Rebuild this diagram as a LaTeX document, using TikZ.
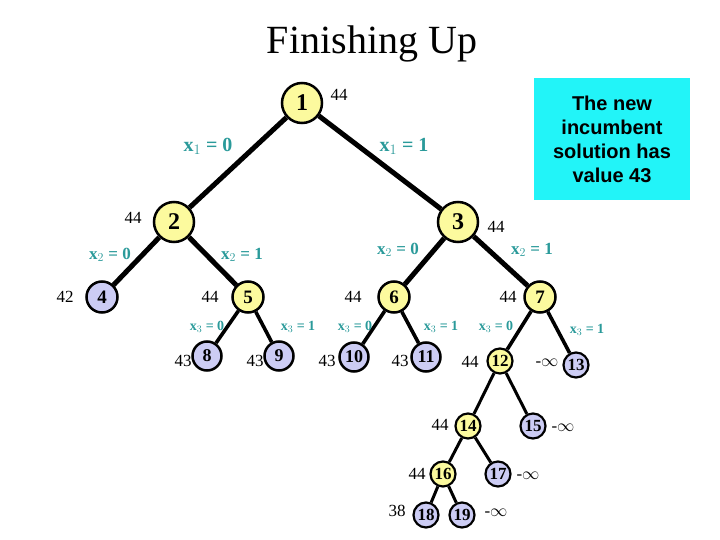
\documentclass[tikz,border=0pt]{standalone}
\usepackage{fontspec}
\setmainfont{Liberation Serif}
\newfontfamily\boxfont{Liberation Sans}
\definecolor{ny}{HTML}{FCFA9E}
\definecolor{nb}{HTML}{CCCCF4}
\definecolor{teal2}{HTML}{2A9A9A}
\definecolor{cy}{HTML}{22F4F8}
\begin{document}
\begin{tikzpicture}[x=1pt,y=-1pt,
 nd/.style={circle,draw=black,line width=2.5pt,inner sep=0pt,font=\fontsize{17}{17}\selectfont\bfseries},
 big/.style={nd,minimum size=40pt,font=\fontsize{24}{24}\selectfont\bfseries},
 mid/.style={nd,minimum size=31pt,font=\fontsize{19}{19}\selectfont\bfseries},
 sm/.style={nd,minimum size=29pt,font=\fontsize{18}{18}\selectfont\bfseries},
 tiny/.style={nd,minimum size=25pt,line width=2.2pt,font=\fontsize{17}{17}\selectfont\bfseries},
 Y/.style={fill=ny}, B/.style={fill=nb},
 val/.style={font=\fontsize{17}{17}\selectfont},
 lab/.style={text=teal2,font=\fontsize{20}{20}\selectfont\bfseries},
 lab2/.style={text=teal2,font=\fontsize{17}{17}\selectfont\bfseries},
 lab3/.style={text=teal2,font=\fontsize{14}{14}\selectfont\bfseries},
 e1/.style={line width=5pt},e2/.style={line width=3.6pt},e3/.style={line width=3pt}]
\useasboundingbox (0,0) rectangle (720,540);
\node (title) at (372,44) {\fontsize{40}{40}\selectfont Finishing Up};
\node[fill=cy,minimum width=156pt,minimum height=122pt,align=center,inner sep=0pt,font=\boxfont\fontsize{20}{24}\selectfont\bfseries] (box) at (612,139) {The new\\incumbent\\solution has\\value 43};
% nodes
\node[big,Y] (n1) at (302,103) {1};
\node[big,Y] (n2) at (174,222) {2};
\node[big,Y] (n3) at (458,222) {3};
\node[mid,B] (n4) at (102,297) {4};
\node[mid,Y] (n5) at (248,297) {5};
\node[mid,Y] (n6) at (394,297) {6};
\node[mid,Y] (n7) at (540,297) {7};
\node[sm,B] (n8) at (207,356) {8};
\node[sm,B] (n9) at (279,356) {9};
\node[sm,B] (n10) at (354,357) {10};
\node[sm,B] (n11) at (426,357) {11};
\node[tiny,Y] (n12) at (500,361) {12};
\node[tiny,B] (n13) at (576,365) {13};
\node[tiny,Y] (n14) at (468,426) {14};
\node[tiny,B] (n15) at (533,426) {15};
\node[tiny,Y] (n16) at (443,474) {16};
\node[tiny,B] (n17) at (498,474) {17};
\node[tiny,B] (n18) at (426,515) {18};
\node[tiny,B] (n19) at (462,515) {19};
% edges
\draw[e1] (n1)--(n2); \draw[e1] (n1)--(n3);
\draw[e1] (n2)--(n4); \draw[e1] (n2)--(n5);
\draw[e1] (n3)--(n6); \draw[e1] (n3)--(n7);
\draw[e2] (n5)--(n8); \draw[e2] (n5)--(n9);
\draw[e2] (n6)--(n10); \draw[e2] (n6)--(n11);
\draw[e2] (n7)--(n12); \draw[e2] (n7)--(n13);
\draw[e3] (n12)--(n14); \draw[e3] (n12)--(n15);
\draw[e3] (n14)--(n16); \draw[e3] (n14)--(n17);
\draw[e3] (n16)--(n18); \draw[e3] (n16)--(n19);
% values
\node[val] (v1) at (339,95) {44};
\node[val] (v2) at (133,218) {44};
\node[val] (v3) at (496,227) {44};
\node[val] (v4) at (65,297) {42};
\node[val] (v5) at (210,297) {44};
\node[val] (v6) at (353,297) {44};
\node[val] (v7) at (508,297) {44};
\node[val] (v8) at (183,361) {43};
\node[val] (v9) at (255,361) {43};
\node[val] (v10) at (327,361) {43};
\node[val] (v11) at (400,361) {43};
\node[val] (v12) at (470,362) {44};
\node[val] (v13) at (547,363) {-$\infty$};
\node[val] (v14) at (440,425) {44};
\node[val] (v15) at (563,428) {-$\infty$};
\node[val] (v16) at (417,474) {44};
\node[val] (v17) at (528,476) {-$\infty$};
\node[val] (v18) at (397,511) {38};
\node[val] (v19) at (496,513) {-$\infty$};
% branch labels
\node[lab] (l1) at (208,146) {x$_1$ = 0};
\node[lab] (l2) at (404,146) {x$_1$ = 1};
\node[lab2] (l3) at (110,255) {x$_2$ = 0};
\node[lab2] (l4) at (242,255) {x$_2$ = 1};
\node[lab2] (l5) at (398,250) {x$_2$ = 0};
\node[lab2] (l6) at (532,250) {x$_2$ = 1};
\node[lab3] (l7) at (207,327) {x$_3$ = 0};
\node[lab3] (l8) at (298,327) {x$_3$ = 1};
\node[lab3] (l9) at (355,327) {x$_3$ = 0};
\node[lab3] (l10) at (441,327) {x$_3$ = 1};
\node[lab3] (l11) at (496,327) {x$_3$ = 0};
\node[lab3] (l12) at (587,330) {x$_3$ = 1};
\end{tikzpicture}
\end{document}
